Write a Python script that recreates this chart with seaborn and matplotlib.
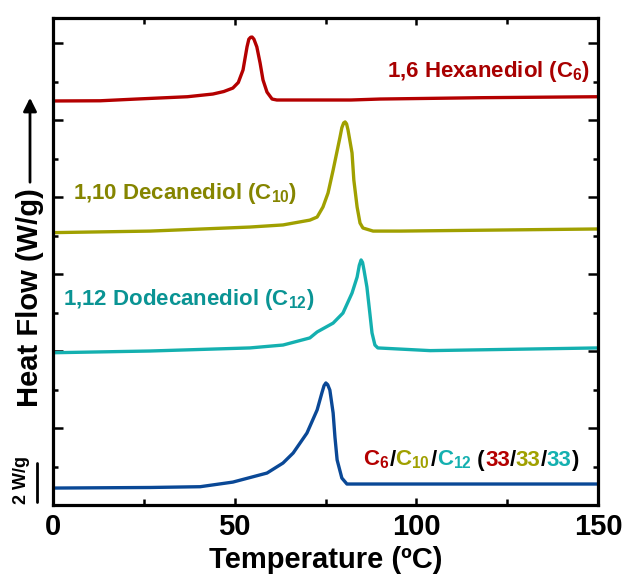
import matplotlib
matplotlib.use("Agg")
import pandas as pd
import seaborn as sns
import matplotlib.pyplot as plt
from matplotlib import font_manager
from matplotlib.ticker import MultipleLocator
from matplotlib.offsetbox import TextArea, HPacker, AnnotationBbox


def pick(names):
    for n in names:
        try:
            font_manager.findfont(n, fallback_to_default=False)
            return n
        except ValueError:
            pass
    return "DejaVu Sans"


# DSC traces (temperature in C, heat flow in W/g, stacked)
temp_c6 = [0, 13, 23, 37, 44, 47, 49.5, 51.0, 52.3, 53.4, 53.9, 54.4, 54.8, 55.3, 56.1, 57.0, 57.8, 58.9, 60.3, 61.6, 82, 90, 118, 150]
flow_c6 = [20.99, 21.00, 21.09, 21.21, 21.35, 21.48, 21.66, 21.95, 22.60, 23.80, 24.20, 24.30, 24.31, 24.20, 23.80, 22.96, 22.08, 21.45, 21.09, 21.04, 21.04, 21.09, 21.16, 21.21]

temp_c10 = [0, 26.7, 54.2, 63.3, 70.7, 72.7, 74.3, 75.7, 77.1, 79.0, 79.5, 80.0, 80.4, 80.8, 81.2, 82.3, 82.8, 83.7, 84.5, 85.3, 88.1, 95.5, 150]
flow_c10 = [14.15, 14.23, 14.44, 14.55, 14.80, 14.96, 15.48, 16.21, 17.40, 19.12, 19.60, 19.85, 19.90, 19.80, 19.48, 18.29, 16.88, 15.48, 14.65, 14.39, 14.23, 14.23, 14.34]

temp_c12 = [0, 26.7, 54.2, 63.3, 70.7, 72.7, 77.1, 79.8, 82.3, 83.7, 84.3, 84.8, 85.2, 85.6, 86.4, 87.2, 87.8, 88.6, 89.4, 103.8, 150]
flow_c12 = [7.91, 8.00, 8.16, 8.31, 8.68, 8.99, 9.45, 9.97, 11.01, 11.84, 12.45, 12.73, 12.60, 12.20, 11.32, 9.97, 8.94, 8.31, 8.16, 8.02, 8.16]

temp_mix = [0, 26.7, 40.5, 49.5, 58.9, 63.3, 66.1, 69.9, 72.7, 74.0, 74.6, 75.1, 75.6, 76.2, 77.1, 77.6, 78.2, 79.5, 80.9, 95.5, 150]
flow_mix = [0.88, 0.91, 0.95, 1.19, 1.66, 2.18, 2.70, 3.74, 4.94, 5.82, 6.20, 6.34, 6.25, 5.97, 4.78, 3.53, 2.34, 1.40, 1.09, 1.09, 1.09]

samples = ["C6", "C10", "C12", "mix"]
line_colors = {"C6": "#b40000", "C10": "#a0a000", "C12": "#14b0b0", "mix": "#0a4896"}
text_colors = {"C6": "#a80000", "C10": "#858500", "C12": "#0a9494"}

frames = []
for name, t, f in zip(samples, [temp_c6, temp_c10, temp_c12, temp_mix],
                      [flow_c6, flow_c10, flow_c12, flow_mix]):
    frames.append(pd.DataFrame({"Temperature": t, "HeatFlow": f, "Sample": name}))
df = pd.concat(frames, ignore_index=True)

sns.set_style("ticks")
bold = pick(["Liberation Sans", "Arial", "DejaVu Sans"])
narrow = pick(["Liberation Sans Narrow", "Liberation Sans"])
plt.rcParams["font.family"] = [bold, "DejaVu Sans"]
plt.rcParams["font.weight"] = "bold"
plt.rcParams["text.color"] = "black"
plt.rcParams["axes.labelcolor"] = "black"
plt.rcParams["xtick.color"] = "black"
plt.rcParams["ytick.color"] = "black"
plt.rcParams["mathtext.fontset"] = "custom"
for k in ["rm", "it", "bf", "sf"]:
    plt.rcParams["mathtext." + k] = bold + ":bold"

fig = plt.figure(figsize=(6.23, 5.77), dpi=100)
ax = fig.add_axes([53 / 623, 1 - 505 / 577, 545 / 623, 487 / 577])

sns.lineplot(data=df, x="Temperature", y="HeatFlow", hue="Sample", hue_order=samples,
             palette=line_colors, estimator=None, sort=False, linewidth=2.4,
             legend=False, ax=ax)

ax.set_xlim(0, 150)
ax.set_ylim(0, 25.3)
ax.xaxis.set_major_locator(MultipleLocator(50))
ax.xaxis.set_minor_locator(MultipleLocator(25))
ax.yaxis.set_major_locator(MultipleLocator(4))
ax.yaxis.set_minor_locator(MultipleLocator(2))
ax.set_yticklabels([])
ax.tick_params(which="both", direction="in", top=True, right=True, width=1.8, color="black")
ax.tick_params(axis="x", which="major", length=5, pad=6, labelcolor="black")
ax.tick_params(axis="x", which="minor", length=4.5)
ax.tick_params(axis="y", which="major", length=7)
ax.tick_params(axis="y", which="minor", length=3.5)
for lab in ax.get_xticklabels():
    lab.set_family(narrow)
    lab.set_fontsize(21)
    lab.set_fontweight("bold")
for s in ax.spines.values():
    s.set_linewidth(2.3)
    s.set_color("black")

ax.set_xlabel("Temperature (ºC)", fontsize=21, fontweight="bold", labelpad=3, color="black")
ax.set_ylabel("")

fig.text(30 / 623, 1 - 298 / 577, "Heat Flow (W/g)", rotation=90, ha="center", va="center",
         fontsize=21, fontweight="bold", color="black")
ax.annotate("", xy=(30 / 623, 1 - 95 / 577), xytext=(30 / 623, 1 - 185 / 577),
            xycoords="figure fraction", textcoords="figure fraction",
            arrowprops=dict(arrowstyle="-|>", lw=2, color="black", mutation_scale=20))

# 2 W/g scale bar
ax.plot([-0.029, -0.029], [0.16, 2.16], color="black", lw=2,
        transform=ax.get_yaxis_transform(), clip_on=False)
ax.text(-0.057, 1.3, "2 W/g", rotation=90, ha="center", va="center", fontsize=13,
        fontweight="bold", color="black", transform=ax.get_yaxis_transform())

fs = 16
ax.text(147.8, 22.5, "1,6 Hexanediol (C$_{6}$)", color=text_colors["C6"], fontsize=fs,
        fontweight="bold", ha="right", va="center")
ax.text(5.5, 16.2, "1,10 Decanediol (C$_{10}$)", color=text_colors["C10"], fontsize=fs,
        fontweight="bold", ha="left", va="center")
ax.text(2.8, 10.65, "1,12 Dodecanediol (C$_{12}$)", color=text_colors["C12"], fontsize=fs,
        fontweight="bold", ha="left", va="center")

pieces = [("C$_{6}$", line_colors["C6"]), ("/", "black"), ("C$_{10}$", line_colors["C10"]),
          ("/", "black"), ("C$_{12}$", line_colors["C12"]), (" (", "black"),
          ("33", line_colors["C6"]), ("/", "black"), ("33", line_colors["C10"]),
          ("/", "black"), ("33", line_colors["C12"]), (")", "black")]
boxes = [TextArea(s, textprops=dict(color=c, fontsize=fs, fontweight="bold")) for s, c in pieces]
pack = HPacker(children=boxes, align="baseline", pad=0, sep=0)
ab = AnnotationBbox(pack, (85.3, 2.34), xycoords="data", box_alignment=(0, 0.5),
                    frameon=False, pad=0)
ax.add_artist(ab)

fig.savefig("out.png", dpi=100)
